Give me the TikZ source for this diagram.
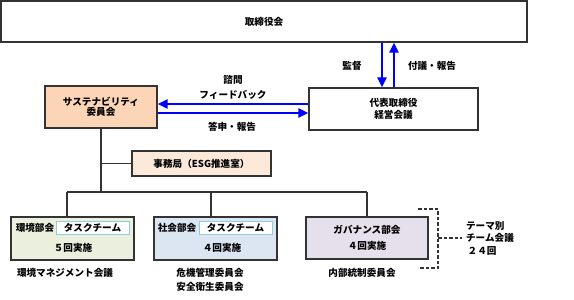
\documentclass[tikz,border=0pt]{standalone}
\usepackage{fontspec}
\setmainfont{Noto Sans CJK JP}
\usetikzlibrary{arrows.meta}
\definecolor{sustfill}{HTML}{FBD5B5}
\definecolor{jimfill}{HTML}{FDE9D9}
\definecolor{envfill}{HTML}{EBF0DE}
\definecolor{socfill}{HTML}{DCE6F2}
\definecolor{govfill}{HTML}{E6E0EC}
\definecolor{taskline}{HTML}{92CDDC}
\definecolor{boxline}{HTML}{333333}
\tikzset{
  every node/.style={font=\fontsize{9.6}{12}\selectfont\bfseries, inner sep=0pt},
  orgbox/.style={draw=boxline, line width=1.3pt, rectangle, align=center},
  taskbox/.style={draw=taskline, line width=1pt, fill=white, minimum width=73pt, minimum height=13pt},
  bluearrow/.style={draw=blue, line width=2.4pt, -{Triangle[length=10pt,width=9pt]}},
  tree/.style={draw=boxline, line width=1.2pt},
  bracket/.style={draw=boxline, line width=1.1pt, dash pattern=on 3.5pt off 2pt},
  lbl/.style={align=center}
}
\begin{document}
\begin{tikzpicture}[x=1pt,y=-1pt]
\useasboundingbox (0,0) rectangle (574,300);
% boxes
\node[orgbox, minimum width=526pt, minimum height=41pt] (board) at (264,21.5) {取締役会};
\node[orgbox, fill=sustfill, minimum width=112pt, minimum height=42pt] (sust) at (101,107) {サステナビリティ\\[-1.5pt]委員会};
\node[orgbox, minimum width=169pt, minimum height=42pt] (rep) at (393.5,109) {代表取締役\\[0.5pt]経営会議};
\node[orgbox, fill=jimfill, minimum width=139pt, minimum height=25pt] (jim) at (201.5,163.5) {事務局（ESG推進室）};
\node[orgbox, fill=envfill, minimum width=123pt, minimum height=43pt] (env) at (72.5,238.5) {};
\node[orgbox, fill=socfill, minimum width=123pt, minimum height=43pt] (soc) at (215.5,238.5) {};
\node[orgbox, fill=govfill, minimum width=122pt, minimum height=42pt] (gov) at (367,238) {ガバナンス部会\\[4pt]４回実施};
\node[taskbox] (envtask) at (92.5,227.5) {タスクチーム};
\node[taskbox] (soctask) at (235.5,227.5) {タスクチーム};
\node (envname) at (35,227.5) {環境部会};
\node (envcount) at (73,248) {５回実施};
\node (socname) at (177,227.5) {社会部会};
\node (soccount) at (222,248) {４回実施};
% labels
\node (kantoku) at (352,66) {監督};
\node (fugi) at (432,66) {付議・報告};
\node (shimon) at (233,80) {諮問};
\node (feedback) at (233,95) {フィードバック};
\node (toshin) at (232,127) {答申・報告};
\node (envsub) at (65,273) {環境マネジメント会議};
\node[lbl] (socsub) at (210,280) {危機管理委員会\\[2pt]安全衛生委員会};
\node (govsub) at (362,273) {内部統制委員会};
\node[align=left, font=\fontsize{9.6}{12.5}\selectfont\bfseries] (theme) at (490,238) {テーマ別\\チーム会議\\\,２４回};
% coordinates
\coordinate (dA) at (382,0);
\coordinate (uA) at (394,0);
\coordinate (hL) at (0,104);
\coordinate (hR) at (0,113);
\coordinate (bus) at (0,192);
\coordinate (jimy) at (101,0);
\coordinate (envx) at (67,0);
\coordinate (socx) at (211,0);
\coordinate (govx) at (367,0);
\coordinate (b1) at (418,209);
\coordinate (b2) at (438,209);
\coordinate (b3) at (438,268);
\coordinate (b4) at (418,268);
\coordinate (bm) at (438,238);
\coordinate (bt) at (462,238);
% blue arrows
\draw[bluearrow] (dA |- board.south) -- (dA |- rep.north);
\draw[bluearrow] (uA |- rep.north) -- (uA |- board.south);
\draw[bluearrow] (rep.west |- hL) -- (sust.east |- hL);
\draw[bluearrow] (sust.east |- hR) -- (rep.west |- hR);
% tree
\draw[tree] (sust.south) -- (sust.south |- bus);
\draw[tree] (jimy |- jim.west) -- (jim.west);
\draw[tree] (envx |- bus) -- (govx |- bus);
\draw[tree] (envx |- bus) -- (envx |- env.north);
\draw[tree] (socx |- bus) -- (socx |- soc.north);
\draw[tree] (govx |- bus) -- (govx |- gov.north);
% dashed bracket
\draw[bracket] (b1) -- (b2) -- (b3) -- (b4);
\draw[bracket] (bm) -- (bt);
\end{tikzpicture}
\end{document}
